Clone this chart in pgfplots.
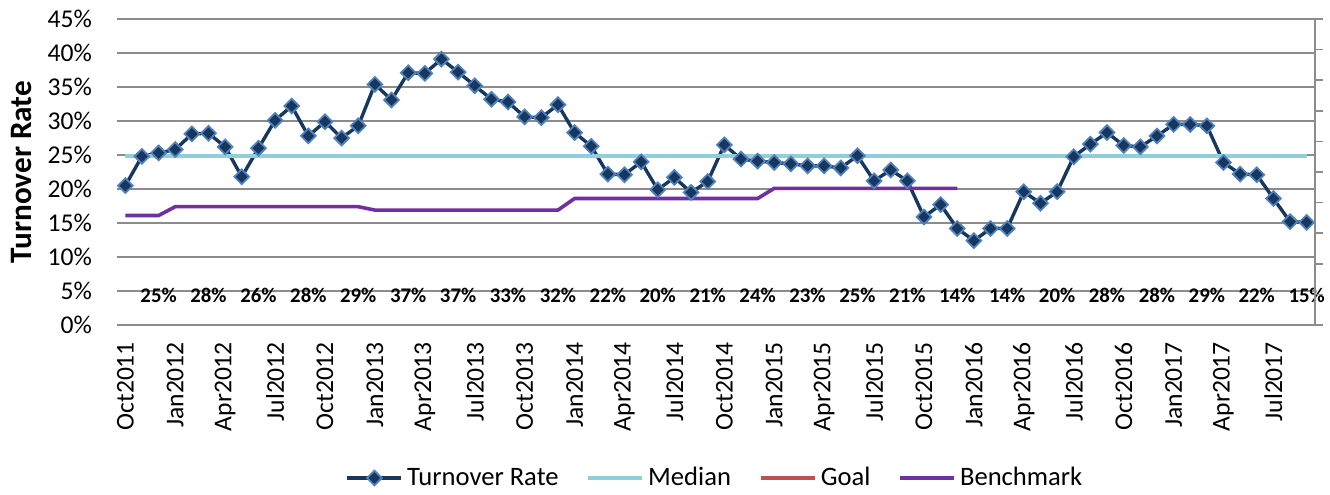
\documentclass[border=0pt]{standalone}
\usepackage{fontspec}
\setmainfont{Carlito}
\usepackage{pgfplots}
\pgfplotsset{compat=1.18}
\definecolor{navy}{HTML}{17375E}
\definecolor{mkedge}{HTML}{4F81BD}
\definecolor{medianc}{HTML}{92CDDC}
\definecolor{goalc}{HTML}{C0504D}
\definecolor{benchc}{HTML}{7030A0}
\definecolor{gridc}{HTML}{8C8C8C}
\begin{document}
\begin{tikzpicture}
\begin{axis}[name=ax, scale only axis, width=599pt, height=153pt,
  xmin=-0.5, xmax=71.5, ymin=0, ymax=45,
  axis line style={draw=none},
  major tick length=0pt,
  ytick={0,5,...,45},
  yticklabels={0\%,5\%,10\%,15\%,20\%,25\%,30\%,35\%,40\%,45\%},
  xtick={0,3,...,69},
  xticklabels={Oct2011,Jan2012,Apr2012,Jul2012,Oct2012,Jan2013,Apr2013,Jul2013,Oct2013,Jan2014,Apr2014,Jul2014,Oct2014,Jan2015,Apr2015,Jul2015,Oct2015,Jan2016,Apr2016,Jul2016,Oct2016,Jan2017,Apr2017,Jul2017},
  ymajorgrids, grid style={gridc, line width=0.8pt},
  tick label style={font=\fontsize{12.8}{15}\selectfont},
  yticklabel style={xshift=-9pt},
  xticklabel style={yshift=-5pt, rotate=90, anchor=east},
  ylabel={Turnover Rate},
  every axis y label/.style={at={(axis description cs:-0.0801,0.5)}, rotate=90, anchor=center, font=\bfseries\fontsize{15.6}{18}\selectfont},
  legend style={at={(0.5,-0.5)}, anchor=center, draw=none, fill=none,
    font=\fontsize{13.3}{16}\selectfont,
    /tikz/every even column/.append style={column sep=12pt}},
  legend columns=4,
  legend image code/.code={\draw[mark repeat=2, mark phase=2, #1] plot coordinates {(0pt,0pt) (13.5pt,0pt) (27pt,0pt)};},
  /pgf/number format/assume math mode=true,
]
\addplot[navy, line width=1.7pt, mark=square*, mark size=2.6pt,
  mark options={rotate=45, fill=navy, draw=mkedge, line width=0.9pt, solid}]
  coordinates {
  (0,20.5) (1,24.8) (2,25.3) (3,25.8) (4,28.1) (5,28.2) (6,26.2) (7,21.8) (8,26.0) (9,30.1)
  (10,32.2) (11,27.8) (12,29.9) (13,27.5) (14,29.3) (15,35.4) (16,33.1) (17,37.1) (18,37.0) (19,39.1)
  (20,37.2) (21,35.2) (22,33.2) (23,32.8) (24,30.6) (25,30.5) (26,32.4) (27,28.3) (28,26.3) (29,22.2)
  (30,22.1) (31,24.0) (32,19.9) (33,21.7) (34,19.5) (35,21.1) (36,26.5) (37,24.4) (38,24.1) (39,23.9)
  (40,23.7) (41,23.4) (42,23.4) (43,23.1) (44,24.9) (45,21.2) (46,22.8) (47,21.2) (48,15.9) (49,17.7)
  (50,14.2) (51,12.4) (52,14.2) (53,14.2) (54,19.6) (55,17.9) (56,19.6) (57,24.75) (58,26.6) (59,28.3)
  (60,26.4) (61,26.2) (62,27.8) (63,29.5) (64,29.5) (65,29.3) (66,23.9) (67,22.2) (68,22.1) (69,18.6)
  (70,15.2) (71,15.1)
  };
\addlegendentry{Turnover Rate}
\addplot[medianc, line width=1.8pt, mark=none] coordinates {(0,24.85) (71,24.85)};
\addlegendentry{Median}
\addlegendimage{goalc, line width=1.9pt, mark=none}
\addlegendentry{Goal}
\addplot[benchc, line width=1.8pt, mark=none] coordinates {
  (0,16.1) (1,16.1) (2,16.1) (3,17.4) (4,17.4) (5,17.4) (6,17.4) (7,17.4) (8,17.4) (9,17.4)
  (10,17.4) (11,17.4) (12,17.4) (13,17.4) (14,17.4) (15,16.9) (16,16.9) (17,16.9) (18,16.9) (19,16.9)
  (20,16.9) (21,16.9) (22,16.9) (23,16.9) (24,16.9) (25,16.9) (26,16.9) (27,18.6) (28,18.6) (29,18.6)
  (30,18.6) (31,18.6) (32,18.6) (33,18.6) (34,18.6) (35,18.6) (36,18.6) (37,18.6) (38,18.6) (39,20.1)
  (40,20.1) (41,20.1) (42,20.1) (43,20.1) (44,20.1) (45,20.1) (46,20.1) (47,20.1) (48,20.1) (49,20.1)
  (50,20.1)
  };
\addlegendentry{Benchmark}
\addplot[forget plot, draw=none, mark=none, nodes near coords, point meta=explicit symbolic,
  every node near coord/.append style={anchor=center, text=black, font=\bfseries\fontsize{10.4}{12}\selectfont}]
  coordinates {
  (2,4.4)[25\%] (5,4.4)[28\%] (8,4.4)[26\%] (11,4.4)[28\%] (14,4.4)[29\%] (17,4.4)[37\%]
  (20,4.4)[37\%] (23,4.4)[33\%] (26,4.4)[32\%] (29,4.4)[22\%] (32,4.4)[20\%] (35,4.4)[21\%]
  (38,4.4)[24\%] (41,4.4)[23\%] (44,4.4)[25\%] (47,4.4)[21\%] (50,4.4)[14\%] (53,4.4)[14\%]
  (56,4.4)[20\%] (59,4.4)[28\%] (62,4.4)[28\%] (65,4.4)[29\%] (68,4.4)[22\%] (71,4.4)[15\%]
  };
\end{axis}
\begin{axis}[scale only axis, width=599pt, height=153pt,
  xmin=0, xmax=1, ymin=0, ymax=10,
  axis x line=none, axis y line*=right,
  y axis line style={-, gridc, line width=0.8pt},
  ytick={0,...,10}, yticklabels={}, tick align=outside, major tick length=4pt,
  ytick style={gridc, line width=0.8pt}]
\end{axis}
\pgfresetboundingbox
\path[use as bounding box] ([shift={(-58.5pt,-84.5pt)}]ax.south west) rectangle ([shift={(7.5pt,9.5pt)}]ax.north east);
\end{tikzpicture}
\end{document}
